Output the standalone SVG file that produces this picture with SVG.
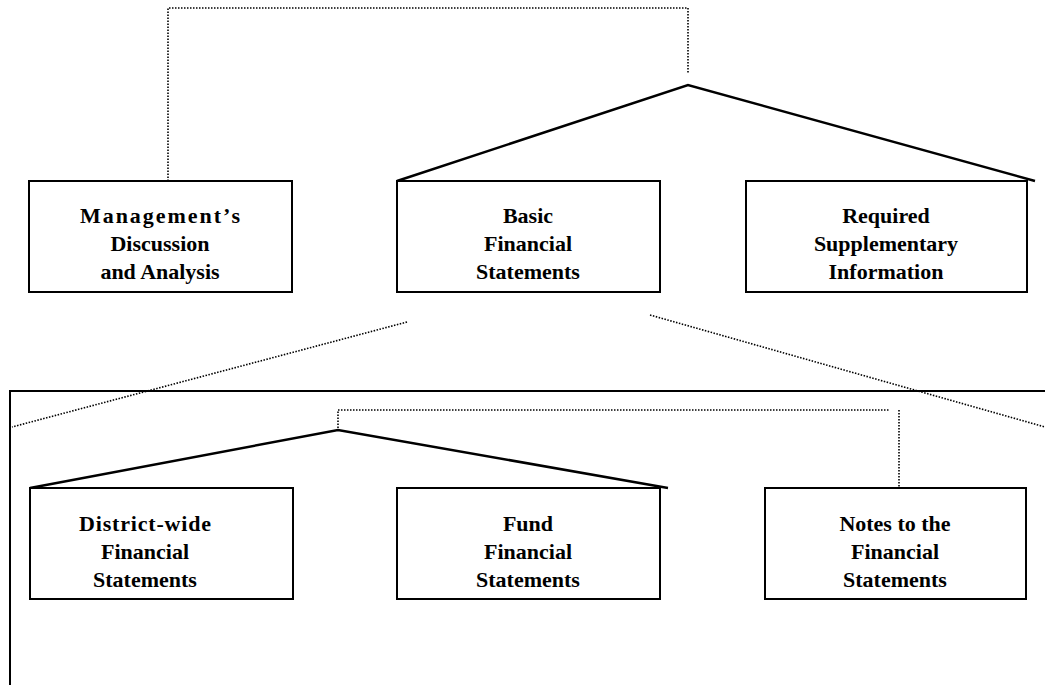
<svg xmlns="http://www.w3.org/2000/svg" width="1045" height="685" viewBox="0 0 1045 685">
<style>
.box{fill:#fff;stroke:#000;stroke-width:2}
.solid{fill:none;stroke:#000;stroke-width:2.5;stroke-linejoin:miter}
.dot{fill:none;stroke:#000;stroke-width:1.6;stroke-dasharray:1.5 1.5}
.frame{fill:none;stroke:#000;stroke-width:2}
.t{font-family:"Liberation Serif","Times New Roman",serif;font-weight:bold;font-size:22px;text-anchor:middle;fill:#000}
</style>
<rect width="1045" height="685" fill="#fff"/>
<g id="connectors">
<polyline class="dot" points="168,181 168,8 688,8 688,73"/>
<polyline class="solid" points="397,181 688,85 1035,181"/>
<line class="dot" x1="407" y1="322" x2="12" y2="427"/>
<line class="dot" x1="650" y1="315" x2="1045" y2="427"/>
<polyline class="dot" points="338,428 338,410 890,410"/>
<line class="dot" x1="899" y1="410" x2="899" y2="487"/>
<polyline class="solid" points="30,488 338,430 668,488"/>
</g>
<g id="frame">
<polyline class="frame" points="1045,391 10,391 10,685"/>
</g>
<g id="mda">
<rect class="box" x="29" y="181" width="263" height="111"/>
<text class="t" x="160" y="223" textLength="160" lengthAdjust="spacing">Management’s</text>
<text class="t" x="160" y="251">Discussion</text>
<text class="t" x="160" y="279">and Analysis</text>
</g>
<g id="bfs">
<rect class="box" x="397" y="181" width="263" height="111"/>
<text class="t" x="528" y="223">Basic</text>
<text class="t" x="528" y="251">Financial</text>
<text class="t" x="528" y="279">Statements</text>
</g>
<g id="rsi">
<rect class="box" x="746" y="181" width="281" height="111"/>
<text class="t" x="886" y="223">Required</text>
<text class="t" x="886" y="251">Supplementary</text>
<text class="t" x="886" y="279">Information</text>
</g>
<g id="dwfs">
<rect class="box" x="30" y="488" width="263" height="111"/>
<text class="t" x="145" y="531" textLength="132" lengthAdjust="spacing">District-wide</text>
<text class="t" x="145" y="559">Financial</text>
<text class="t" x="145" y="587">Statements</text>
</g>
<g id="ffs">
<rect class="box" x="397" y="488" width="263" height="111"/>
<text class="t" x="528" y="531">Fund</text>
<text class="t" x="528" y="559">Financial</text>
<text class="t" x="528" y="587">Statements</text>
</g>
<g id="notes">
<rect class="box" x="765" y="488" width="261" height="111"/>
<text class="t" x="895" y="531">Notes to the</text>
<text class="t" x="895" y="559">Financial</text>
<text class="t" x="895" y="587">Statements</text>
</g>
</svg>
